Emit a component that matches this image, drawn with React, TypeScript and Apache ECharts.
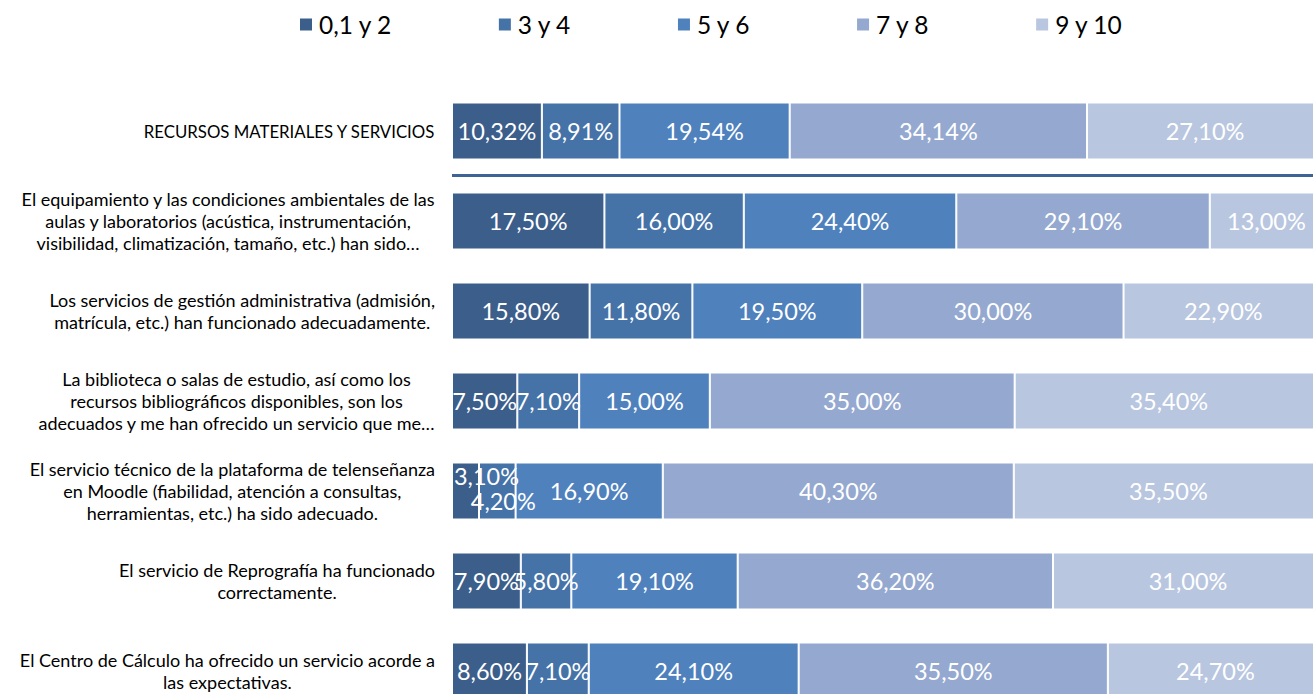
import React, { useEffect, useRef } from "react";
import * as echarts from "echarts";

const categories = [
  "RECURSOS MATERIALES Y SERVICIOS",
  "El equipamiento y las condiciones ambientales de las\naulas y laboratorios (acústica, instrumentación,\nvisibilidad, climatización, tamaño, etc.) han sido…",
  "Los servicios de gestión administrativa (admisión,\nmatrícula, etc.) han funcionado adecuadamente.",
  "La biblioteca o salas de estudio, así como los\nrecursos bibliográficos disponibles, son los\nadecuados y me han ofrecido un servicio que me…",
  "El servicio técnico de la plataforma de telenseñanza\nen Moodle (fiabilidad, atención a consultas,\nherramientas, etc.) ha sido adecuado.",
  "El servicio de Reprografía ha funcionado\ncorrectamente.",
  "El Centro de Cálculo ha ofrecido un servicio acorde a\nlas expectativas.",
];

const seriesNames = ["0,1 y 2", "3 y 4", "5 y 6", "7 y 8", "9 y 10"];

const s012 = [10.32, 17.5, 15.8, 7.5, 3.1, 7.9, 8.6];
const s34 = [8.91, 16.0, 11.8, 7.1, 4.2, 5.8, 7.1];
const s56 = [19.54, 24.4, 19.5, 15.0, 16.9, 19.1, 24.1];
const s78 = [34.14, 29.1, 30.0, 35.0, 40.3, 36.2, 35.5];
const s910 = [27.1, 13.0, 22.9, 35.4, 35.5, 31.0, 24.7];

const seriesValues = [s012, s34, s56, s78, s910];
const colors = ["#3B5E8B", "#4572A7", "#4F81BD", "#95A9D0", "#B9C6E0"];

const FONT = "Lato";

export default function App() {
  const ref = useRef<HTMLDivElement>(null);
  useEffect(() => {
    if (!ref.current) return;
    const chart = echarts.init(ref.current, undefined, { renderer: "svg" });
    const fmt = (v: number) => v.toFixed(2).replace(".", ",") + "%";
    const series = seriesValues.map((vals, si) => ({
      name: seriesNames[si],
      type: "bar",
      stack: "total",
      barWidth: 57,
      itemStyle: { color: colors[si], borderColor: "#ffffff", borderWidth: 1 },
      label: {
        show: true,
        position: "inside",
        color: "#ffffff",
        fontFamily: FONT,
        fontSize: 23.5,
        formatter: (p: any) => fmt(p.value),
      },
      data: vals.map((v, i) => {
        if (i === 4 && si === 0) return { value: v, label: { offset: [21, -15] } };
        if (i === 4 && si === 1) return { value: v, label: { offset: [6, 10] } };
        return v;
      }),
    }));
    chart.setOption({
      animation: false,
      color: colors,
      legend: {
        top: 12,
        left: 298,
        padding: 0,
        itemWidth: 14,
        itemHeight: 14,
        itemGap: 104.5,
        icon: "rect",
        textStyle: { fontFamily: FONT, fontSize: 24.5, color: "#000", padding: [0, 0, 0, 1] },
        data: seriesNames,
      },
      grid: { left: 452, right: 17, top: 86, height: 630 },
      xAxis: { type: "value", min: 0, max: 100, show: false },
      yAxis: {
        type: "category",
        inverse: true,
        data: categories,
        axisLine: { show: false },
        axisTick: { show: false },
        axisLabel: {
          margin: 17,
          color: "#000",
          fontFamily: FONT,
          fontSize: 18,
          lineHeight: 22,
          formatter: (v: string) =>
            v.indexOf("\n") < 0
              ? `{r|${v}}`
              : v
                  .split("\n")
                  .map((l) => `{c|${l}}`)
                  .join("\n"),
          rich: {
            c: { align: "center", fontFamily: FONT, fontSize: 18, lineHeight: 22, color: "#000" },
            r: { align: "center", fontFamily: FONT, fontSize: 16.8, lineHeight: 22, color: "#000" },
          },
        },
      },
      graphic: [
        {
          type: "rect",
          left: 452,
          top: 174,
          shape: { width: 900, height: 3 },
          style: { fill: "#3E6496" },
        },
      ],
      series,
    });
    return () => chart.dispose();
  }, []);
  return (
    <div
      style={{
        position: "fixed",
        left: 0,
        top: 0,
        width: 1313,
        height: 694,
        overflow: "hidden",
        background: "#fff",
      }}
    >
      <div ref={ref} style={{ position: "absolute", left: 0, top: 0, width: 1340, height: 730 }} />
    </div>
  );
}
